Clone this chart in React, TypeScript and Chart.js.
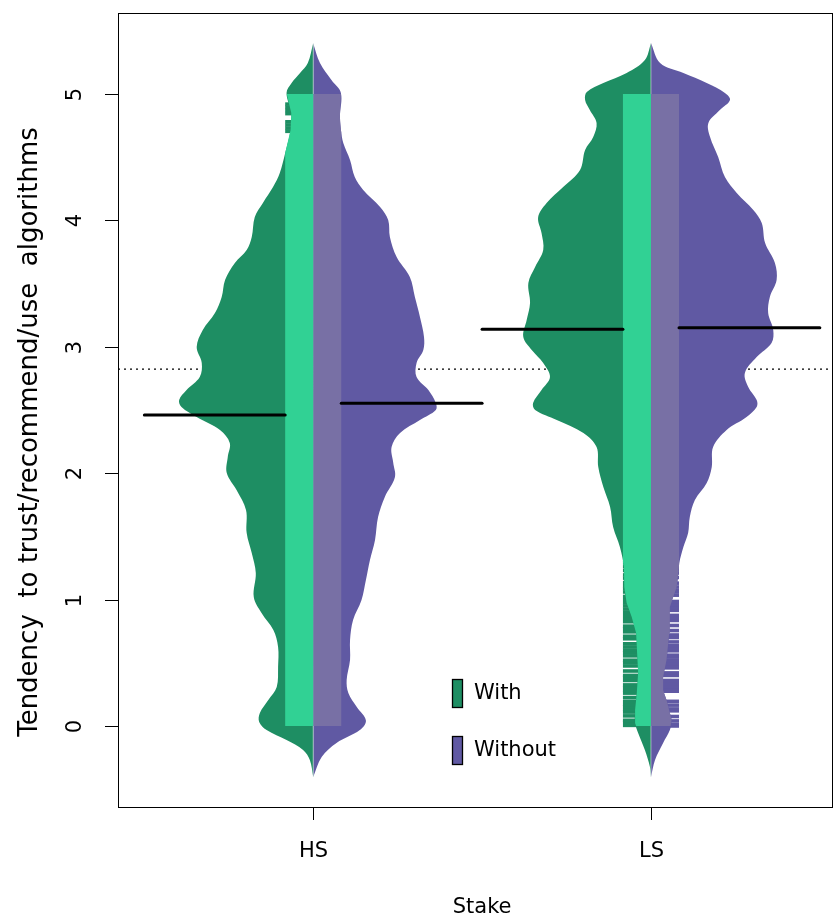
import React, { useEffect, useRef } from 'react';
import { Chart, registerables } from 'chart.js';

Chart.register(...registerables);

// ---------------- data ----------------
const categories = ['HS', 'LS'];
const groupNames = ['With', 'Without'];
const yTicks = [0, 1, 2, 3, 4, 5];

// violin profiles: value on the y axis and half-width of the bean (x units)
const hsWithV = [5.401, 5.245, 5.166, 5.087, 5.008, 4.85, 4.715, 4.533, 4.375, 4.264, 4.138, 4.027, 3.869, 3.766, 3.663, 3.528, 3.394, 3.267, 3.133, 2.998, 2.872, 2.761, 2.658, 2.579, 2.524, 2.445, 2.342, 2.239, 2.128, 2.002, 1.867, 1.709, 1.527, 1.369, 1.21, 1.021, 0.894, 0.759, 0.625, 0.467, 0.309, 0.206, 0.103, 0.032, -0.032, -0.111, -0.19, -0.269, -0.403];
const hsWithW = [0, 0.016, 0.039, 0.064, 0.079, 0.065, 0.067, 0.083, 0.099, 0.119, 0.149, 0.173, 0.182, 0.197, 0.232, 0.261, 0.271, 0.291, 0.327, 0.345, 0.33, 0.336, 0.375, 0.397, 0.39, 0.345, 0.276, 0.247, 0.253, 0.256, 0.227, 0.199, 0.197, 0.182, 0.17, 0.176, 0.153, 0.118, 0.104, 0.104, 0.108, 0.133, 0.158, 0.16, 0.138, 0.079, 0.03, 0.01, 0];

const hsWithoutV = [5.4, 5.245, 5.11, 5.008, 4.818, 4.715, 4.612, 4.478, 4.343, 4.241, 4.106, 4.003, 3.869, 3.71, 3.552, 3.394, 3.236, 3.078, 2.975, 2.872, 2.761, 2.658, 2.555, 2.5, 2.421, 2.318, 2.207, 2.081, 1.97, 1.812, 1.653, 1.472, 1.313, 1.155, 0.997, 0.839, 0.68, 0.522, 0.364, 0.261, 0.15, 0.044, -0.032, -0.134, -0.245, -0.403];
const hsWithoutW = [0, 0.02, 0.054, 0.082, 0.079, 0.082, 0.089, 0.109, 0.123, 0.148, 0.198, 0.222, 0.227, 0.247, 0.286, 0.301, 0.316, 0.328, 0.326, 0.306, 0.306, 0.341, 0.363, 0.363, 0.316, 0.257, 0.232, 0.237, 0.242, 0.212, 0.192, 0.183, 0.168, 0.156, 0.143, 0.118, 0.109, 0.109, 0.099, 0.104, 0.129, 0.156, 0.138, 0.069, 0.025, 0];

const lsWithV = [5.401, 5.269, 5.166, 5.087, 5.016, 4.953, 4.873, 4.771, 4.66, 4.557, 4.399, 4.264, 4.138, 4.027, 3.9, 3.766, 3.631, 3.505, 3.347, 3.212, 3.078, 2.975, 2.872, 2.761, 2.658, 2.555, 2.5, 2.421, 2.318, 2.207, 2.049, 1.891, 1.733, 1.574, 1.416, 1.258, 1.1, 0.973, 0.862, 0.736, 0.578, 0.419, 0.261, 0.127, 0.024, -0.055, -0.19, -0.324, -0.403];
const lsWithW = [0, 0.018, 0.072, 0.141, 0.19, 0.195, 0.181, 0.161, 0.171, 0.195, 0.21, 0.26, 0.309, 0.334, 0.324, 0.319, 0.343, 0.363, 0.358, 0.368, 0.378, 0.353, 0.319, 0.299, 0.324, 0.349, 0.343, 0.279, 0.2, 0.161, 0.156, 0.141, 0.121, 0.112, 0.092, 0.08, 0.079, 0.072, 0.057, 0.044, 0.041, 0.038, 0.042, 0.047, 0.047, 0.038, 0.018, 0.003, 0];

const lsWithoutV = [5.403, 5.245, 5.166, 5.087, 5.008, 4.953, 4.873, 4.771, 4.66, 4.502, 4.343, 4.217, 4.082, 3.979, 3.821, 3.663, 3.528, 3.394, 3.267, 3.133, 3.03, 2.919, 2.793, 2.682, 2.579, 2.524, 2.445, 2.342, 2.207, 2.049, 1.922, 1.788, 1.653, 1.527, 1.416, 1.29, 1.1, 0.941, 0.736, 0.522, 0.388, 0.285, 0.206, 0.103, 0.047, -0.032, -0.134, -0.269, -0.403];
const lsWithoutW = [0, 0.027, 0.096, 0.165, 0.219, 0.234, 0.204, 0.17, 0.175, 0.199, 0.219, 0.254, 0.303, 0.328, 0.338, 0.367, 0.372, 0.352, 0.347, 0.362, 0.357, 0.313, 0.278, 0.288, 0.313, 0.313, 0.283, 0.224, 0.184, 0.18, 0.165, 0.13, 0.115, 0.11, 0.096, 0.084, 0.076, 0.056, 0.054, 0.046, 0.036, 0.036, 0.046, 0.056, 0.061, 0.056, 0.036, 0.012, 0];

// observations whose bean lines stick out of the bean
const hsWithOutside = [4.705, 4.73, 4.755, 4.78, 4.845, 4.87, 4.895, 4.92];
const hsWithoutOutside: number[] = [];
const lsWithOutside = [0.005, 0.03, 0.045, 0.08, 0.11, 0.13, 0.155, 0.17, 0.195, 0.225, 0.26, 0.28, 0.305, 0.325, 0.36, 0.385, 0.4, 0.435, 0.475, 0.5, 0.52, 0.555, 0.58, 0.6, 0.625, 0.65, 0.69, 0.71, 0.745, 0.77, 0.79, 0.825, 0.85, 0.875, 0.9, 0.925, 0.95, 0.975, 1.0, 1.025, 1.06, 1.085, 1.11, 1.135, 1.17, 1.195, 1.23, 1.26, 1.29];
const lsWithoutOutside = [0.0, 0.012, 0.04, 0.075, 0.12, 0.135, 0.165, 0.195, 0.275, 0.295, 0.31, 0.335, 0.36, 0.4, 0.42, 0.46, 0.47, 0.495, 0.52, 0.545, 0.56, 0.595, 0.615, 0.635, 0.665, 0.7, 0.72, 0.755, 0.795, 0.835, 0.855, 0.875, 0.915, 0.935, 0.96, 0.985, 1.035, 1.06, 1.075, 1.1, 1.13, 1.175, 1.21, 1.235, 1.26, 1.285, 1.31, 1.33];

// range covered by the bean lines
const dataMin = 0;
const dataMax = 5;

const withMeans = [2.46, 3.138];
const withoutMeans = [2.553, 3.151];
const overallMean = 2.824;

const beanLineLength = 0.083;
const meanLineHalfLength = 0.5;

const xMin = 0.422;
const xMax = 2.536;
const yMin = -0.641;
const yMax = 5.641;

// ---------------- colours ----------------
const withFill = '#1E8E63';
const withInner = '#31D194';
const withoutFill = '#6059A3';
const withoutInner = '#7870A5';
const FONT = '"DejaVu Sans", sans-serif';

type P = { v: number; w: number };

function profile(vs: number[], ws: number[]): P[] {
  return vs.map((v, i) => ({ v, w: ws[i] })).sort((a, b) => a.v - b.v);
}

function widthAt(pts: P[], v: number): number {
  if (v <= pts[0].v) return pts[0].w;
  for (let i = 0; i < pts.length - 1; i++) {
    const a = pts[i];
    const b = pts[i + 1];
    if (v >= a.v && v <= b.v) {
      const t = b.v === a.v ? 0 : (v - a.v) / (b.v - a.v);
      return a.w + t * (b.w - a.w);
    }
  }
  return pts[pts.length - 1].w;
}

function violinShape(center: number, side: number, pts: P[]) {
  const out = [{ x: center, y: pts[0].v }];
  pts.forEach((p) => out.push({ x: center + side * p.w, y: p.v }));
  out.push({ x: center, y: pts[pts.length - 1].v });
  return out;
}

function innerShape(center: number, side: number, pts: P[], lo: number, hi: number, ll: number) {
  const vals: number[] = [lo, hi];
  pts.forEach((p) => {
    if (p.v > lo && p.v < hi) vals.push(p.v);
  });
  for (let i = 0; i < pts.length - 1; i++) {
    const a = pts[i];
    const b = pts[i + 1];
    if ((a.w - ll) * (b.w - ll) < 0) {
      const t = (ll - a.w) / (b.w - a.w);
      const v = a.v + t * (b.v - a.v);
      if (v > lo && v < hi) vals.push(v);
    }
  }
  vals.sort((a, b) => a - b);
  const out = [{ x: center, y: lo }];
  vals.forEach((v) => out.push({ x: center + side * Math.min(ll, widthAt(pts, v)), y: v }));
  out.push({ x: center, y: hi });
  return out;
}

function buildDatasets() {
  const sides = [
    { cat: 0, side: -1, pts: profile(hsWithV, hsWithW), outside: hsWithOutside, mean: withMeans[0], fill: withFill, inner: withInner },
    { cat: 0, side: 1, pts: profile(hsWithoutV, hsWithoutW), outside: hsWithoutOutside, mean: withoutMeans[0], fill: withoutFill, inner: withoutInner },
    { cat: 1, side: -1, pts: profile(lsWithV, lsWithW), outside: lsWithOutside, mean: withMeans[1], fill: withFill, inner: withInner },
    { cat: 1, side: 1, pts: profile(lsWithoutV, lsWithoutW), outside: lsWithoutOutside, mean: withoutMeans[1], fill: withoutFill, inner: withoutInner },
  ];
  const ds: any[] = [];
  ds.push({
    type: 'line',
    data: [{ x: xMin, y: overallMean }, { x: xMax, y: overallMean }],
    borderColor: '#000',
    borderWidth: 1.2,
    borderDash: [2, 4],
    pointRadius: 0,
    fill: false,
    order: 60,
  });
  sides.forEach((s) => {
    const center = s.cat + 1;
    ds.push({
      type: 'scatter',
      data: s.outside.map((v) => ({ x: center + (s.side * beanLineLength) / 2, y: v })),
      showLine: false,
      pointStyle: 'line',
      pointRadius: (ctx: any) => {
        const sc = ctx.chart.scales.x;
        return Math.abs(sc.getPixelForValue(beanLineLength) - sc.getPixelForValue(0)) / 2;
      },
      pointBorderWidth: 3.6,
      pointBorderColor: s.fill,
      pointBackgroundColor: s.fill,
      order: 50,
    });
    ds.push({
      type: 'line',
      data: violinShape(center, s.side, s.pts),
      showLine: true,
      borderWidth: 0,
      borderColor: 'rgba(0,0,0,0)',
      backgroundColor: s.fill,
      fill: 'shape',
      pointRadius: 0,
      tension: 0.35,
      order: 40,
    });
    ds.push({
      type: 'line',
      data: innerShape(center, s.side, s.pts, dataMin, dataMax, beanLineLength),
      showLine: true,
      borderWidth: 0,
      borderColor: 'rgba(0,0,0,0)',
      backgroundColor: s.inner,
      fill: 'shape',
      pointRadius: 0,
      tension: 0,
      order: 30,
    });
    const a = center + s.side * beanLineLength;
    const b = center + s.side * meanLineHalfLength;
    ds.push({
      type: 'line',
      data: [{ x: Math.min(a, b), y: s.mean }, { x: Math.max(a, b), y: s.mean }],
      borderColor: '#000',
      borderWidth: 3,
      borderCapStyle: 'round',
      pointRadius: 0,
      fill: false,
      order: 20,
    });
  });
  // thin seam between the two halves of each bean
  categories.forEach((_, i) => {
    const p = profile(hsWithV, hsWithW);
    ds.push({
      type: 'line',
      data: [{ x: i + 1, y: p[0].v }, { x: i + 1, y: p[p.length - 1].v }],
      borderColor: 'rgba(225,235,230,0.55)',
      borderWidth: 1,
      pointRadius: 0,
      fill: false,
      order: 35,
    });
  });
  return ds;
}

const framePlugin = {
  id: 'rframe',
  afterDraw(chart: any) {
    const { ctx, chartArea: a, scales } = chart;
    const xs = scales.x;
    const ys = scales.y;
    ctx.save();
    ctx.strokeStyle = '#000';
    ctx.lineWidth = 1;
    ctx.strokeRect(a.left + 0.5, a.top + 0.5, a.right - a.left, a.bottom - a.top);

    ctx.fillStyle = '#000';
    ctx.font = `21px ${FONT}`;
    // y ticks
    yTicks.forEach((t) => {
      const y = Math.round(ys.getPixelForValue(t)) + 0.5;
      ctx.beginPath();
      ctx.moveTo(a.left, y);
      ctx.lineTo(a.left - 13, y);
      ctx.stroke();
      ctx.save();
      ctx.translate(a.left - 42, y);
      ctx.rotate(-Math.PI / 2);
      ctx.textAlign = 'center';
      ctx.textBaseline = 'middle';
      ctx.fillText(String(t), 0, 0);
      ctx.restore();
    });
    // x ticks
    categories.forEach((c, i) => {
      const x = Math.round(xs.getPixelForValue(i + 1)) + 0.5;
      ctx.beginPath();
      ctx.moveTo(x, a.bottom);
      ctx.lineTo(x, a.bottom + 13);
      ctx.stroke();
      ctx.textAlign = 'center';
      ctx.textBaseline = 'middle';
      ctx.fillText(c, x, a.bottom + 45);
    });
    // axis titles
    ctx.textAlign = 'center';
    ctx.textBaseline = 'middle';
    ctx.fillText('Stake', xs.getPixelForValue(1.5), a.bottom + 101);
    ctx.save();
    ctx.translate(30, 432);
    ctx.rotate(-Math.PI / 2);
    ctx.font = `26px ${FONT}`;
    ctx.fillText('Tendency  to trust/recommend/use  algorithms', 0, 0);
    ctx.restore();

    // legend
    const legendColors = [withFill, withoutFill];
    groupNames.forEach((g, i) => {
      const top = 679 + i * 57;
      ctx.fillStyle = legendColors[i];
      ctx.fillRect(452.5, top + 0.5, 10, 28);
      ctx.strokeStyle = '#000';
      ctx.lineWidth = 1.3;
      ctx.strokeRect(452.5, top + 0.5, 10, 28);
      ctx.fillStyle = '#000';
      ctx.font = `21px ${FONT}`;
      ctx.textAlign = 'left';
      ctx.textBaseline = 'middle';
      ctx.fillText(g, 474, top + 15);
    });
    ctx.restore();
  },
};

export default function App() {
  const ref = useRef<HTMLCanvasElement | null>(null);
  useEffect(() => {
    document.body.style.margin = '0';
    if (!ref.current) return;
    const chart = new Chart(ref.current, {
      type: 'scatter',
      data: { datasets: buildDatasets() },
      options: {
        responsive: false,
        animation: false,
        events: [],
        layout: { padding: { left: 118, top: 13, right: 1, bottom: 113 } },
        scales: {
          x: { type: 'linear', min: xMin, max: xMax, display: false },
          y: { type: 'linear', min: yMin, max: yMax, display: false },
        },
        plugins: { legend: { display: false }, tooltip: { enabled: false } },
      } as any,
      plugins: [framePlugin],
    } as any);
    return () => chart.destroy();
  }, []);
  return (
    <div style={{ width: 833, height: 920, background: '#fff' }}>
      <canvas ref={ref} width={833} height={920} style={{ display: 'block' }} />
    </div>
  );
}
